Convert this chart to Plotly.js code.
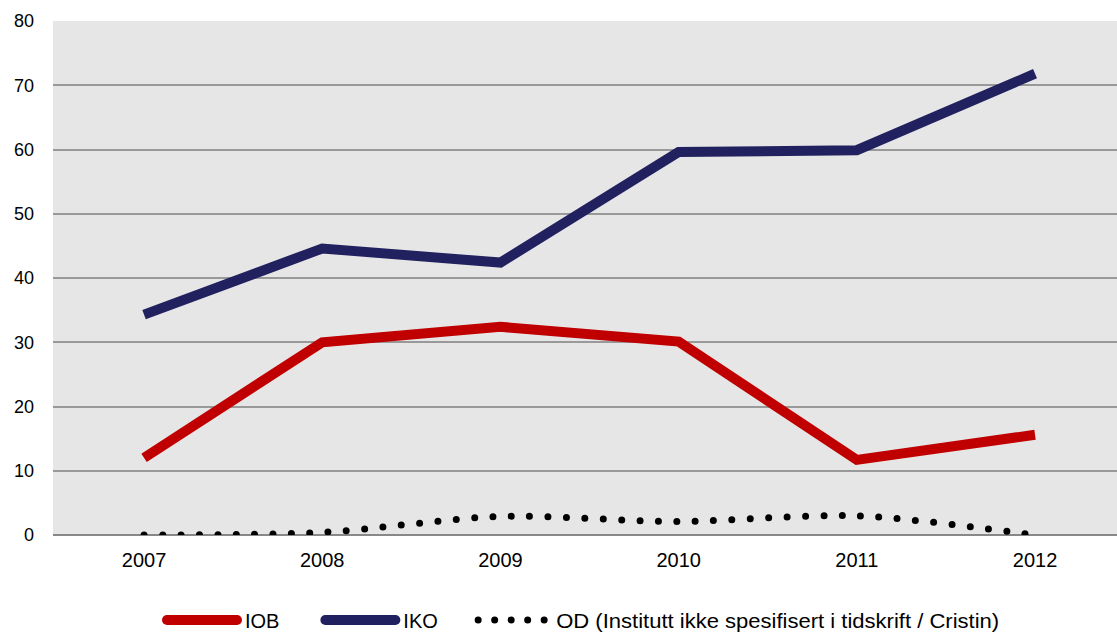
<!DOCTYPE html>
<html><head><meta charset="utf-8">
<script src="https://cdn.plot.ly/plotly-3.0.1.min.js"></script>
<style>html,body{margin:0;padding:0;background:#fff;}#chart{width:1117px;height:634px;}</style>
</head><body><div id="chart"></div>
<script>
var years = ['2007','2008','2009','2010','2011','2012'];
var iob = [12.0, 30.0, 32.4, 30.1, 11.7, 15.6];
var iko = [34.3, 44.6, 42.4, 59.6, 59.9, 71.8];
var od = [0, 0.4, 2.9, 2.1, 3.0, 0];
var seriesNames = ['IOB', 'IKO', 'OD (Institutt ikke spesifisert i tidskrift / Cristin)'];
var xIdx = years.map(function(_, i){ return i; });
function nbsp(n){ return new Array(n + 1).join('\u00a0'); }

var traces = [
  {x: xIdx, y: iob, name: seriesNames[0] + nbsp(7), mode: 'lines', line: {color: '#c00000', width: 10}},
  {x: xIdx, y: iko, name: seriesNames[1] + nbsp(6), mode: 'lines', line: {color: '#22215f', width: 10}},
  {x: xIdx, y: od, name: seriesNames[2], mode: 'lines',
   line: {color: '#000000', width: 6, dash: 'dot', shape: 'spline', smoothing: 0.8}}
];
var layout = {
  width: 1117, height: 634,
  margin: {l: 53, r: 0, t: 21, b: 99},
  paper_bgcolor: '#ffffff', plot_bgcolor: '#e6e6e6',
  font: {family: 'Liberation Sans, Arial, sans-serif', size: 18, color: '#000'},
  xaxis: {range: [-0.511, 5.46], tickvals: xIdx, ticktext: years, showgrid: false, zeroline: false,
          showline: false, ticks: '', tickfont: {size: 20}, ticklabelstandoff: 11, fixedrange: true},
  yaxis: {range: [0, 80], dtick: 10, showgrid: true, gridcolor: '#999999', gridwidth: 2,
          zeroline: true, zerolinecolor: '#888888', zerolinewidth: 2, showline: false, ticks: '',
          tickfont: {size: 18}, ticklabelstandoff: 18, fixedrange: true},
  showlegend: true,
  legend: {orientation: 'h', xref: 'paper', x: (162 - 53) / 1064, xanchor: 'left',
           yref: 'container', y: 1 - 620 / 634, yanchor: 'middle',
           font: {size: 20}, itemwidth: 70, tracegroupgap: 0, bgcolor: 'rgba(0,0,0,0)'}
};
Plotly.newPlot('chart', traces, layout, {displayModeBar: false, staticPlot: true}).then(function(gd){
  var tr = gd.querySelectorAll('.scatterlayer .trace');
  if (tr[2]) tr[2].querySelectorAll('path.js-line').forEach(function(p){
    p.style.strokeDasharray = '0 18.4'; p.style.strokeLinecap = 'round'; p.style.strokeWidth = '7px'; });
  gd.querySelectorAll('.legend [clip-path]').forEach(function(el){ el.removeAttribute('clip-path'); });
  var lg = gd.querySelectorAll('.legend .traces');
  lg.forEach(function(g, i){
    g.querySelectorAll('path.js-line').forEach(function(p){
      p.style.strokeLinecap = 'round';
      if (i === 2) { p.style.strokeDasharray = '0 16.5'; p.style.strokeWidth = '7px'; }
    });
    var t = g.querySelector('text.legendtext');
    if (t) {
      var x0 = parseFloat(t.getAttribute('x')) || 0;
      t.setAttribute('x', x0 + 3);
      if (i === 2) { t.setAttribute('textLength', '443'); t.setAttribute('lengthAdjust', 'spacingAndGlyphs'); }
    }
  });
});
</script></body></html>
